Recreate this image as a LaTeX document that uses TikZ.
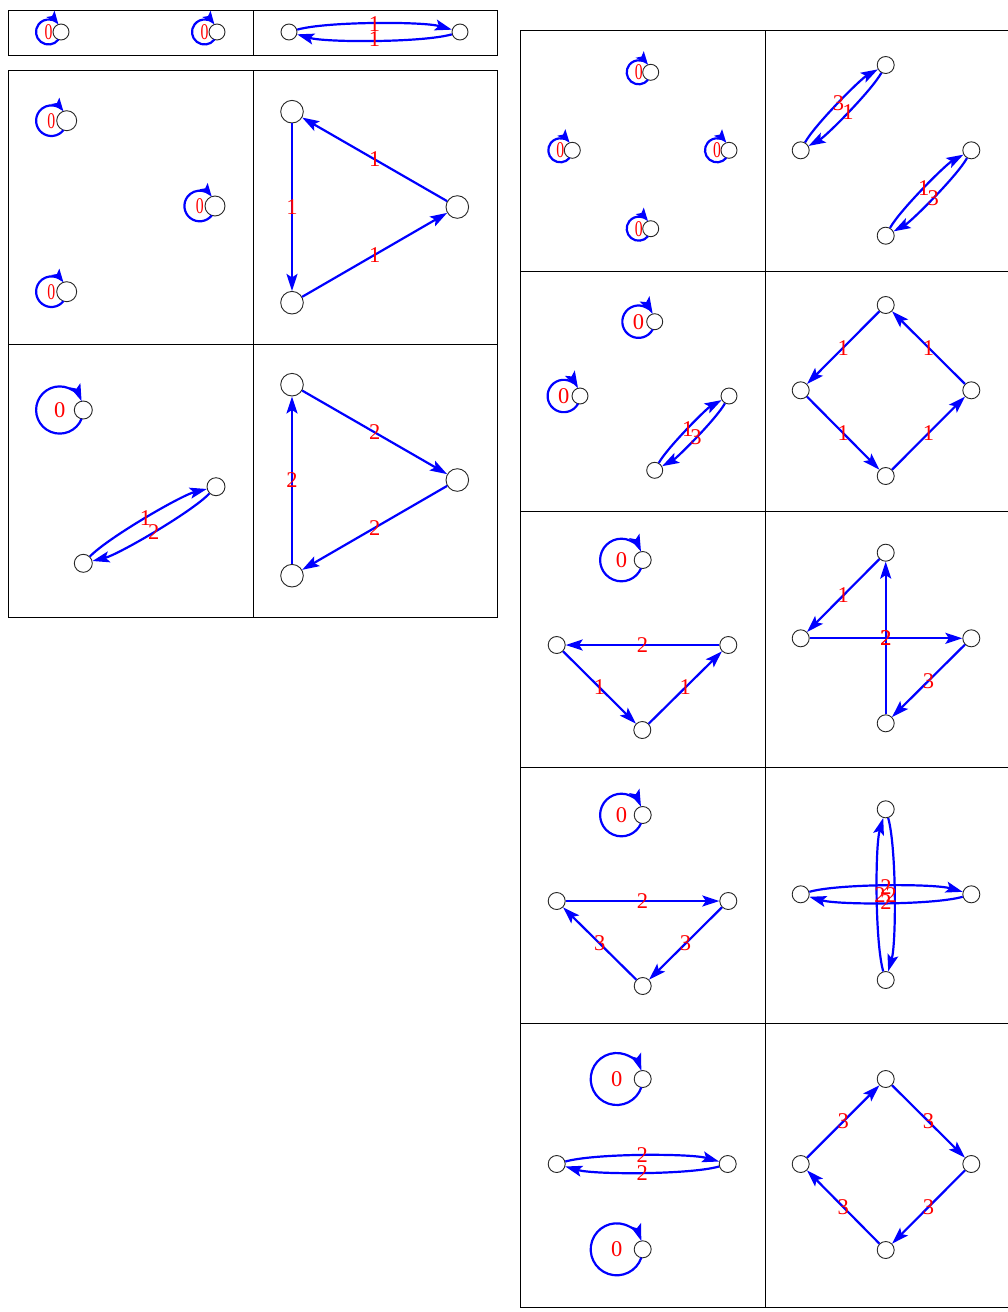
\documentclass[tikz,border=0pt]{standalone}
\usepackage{fontspec}
\setmainfont{Liberation Serif}
\usetikzlibrary{arrows.meta,calc}
\newcommand\sqz[1]{\scalebox{0.7}[1]{#1}}
\newcommand\selfloop[5][]{%
  \pgfmathsetmacro\loopth{acos(1-(#4*#4)/(2*#3*#3))}%
  \draw[gedge,#1] ($(#2.center)+({-#3+#3*cos(\loopth)},{-#3*sin(\loopth)})$)
     arc[start angle={-\loopth}, end angle={-360+\loopth}, radius=#3];
  \node[lab] at ($(#2.center)+(-#3,0)$) {#5};
}
\tikzset{
  vtx/.style={circle, draw=black!85, fill=white, line width=0.9pt, inner sep=0pt, minimum size=#1},
  vtx/.default=17pt,
  gedge/.style={draw=blue, line width=2.2pt, -{Stealth[length=17pt,width=11pt,inset=3.5pt]}},
  smalltip/.style={-{Stealth[length=13pt,width=10pt,inset=2.5pt]}},
  lab/.style={text=red, font=\fontsize{22.5pt}{22.5pt}\selectfont, inner sep=0pt},
  grid/.style={draw=black, line width=1pt},
  bnd/.style={bend left=16, looseness=0.5}
}
\begin{document}
\begin{tikzpicture}[x=1pt,y=1pt]
\useasboundingbox (0,0) rectangle (1008,-1312);
\fill[white] (0,0) rectangle (1008,-1312);
% ---------- tables ----------
\draw[grid] (8,-10) rectangle (497,-55);
\draw[grid] (253,-10) -- (253,-55);
\draw[grid] (8,-70) rectangle (497,-617);
\draw[grid] (253,-70) -- (253,-617);
\draw[grid] (8,-344) -- (497,-344);
\draw[grid] (1009,-30) -- (520,-30) -- (520,-1307) -- (1009,-1307);
\draw[grid] (765,-30) -- (765,-1307);
\foreach \yy in {271,511,767,1023} \draw[grid] (520,-\yy) -- (1009,-\yy);
% ---------- top table ----------
\node[vtx=16pt] (a1) at (61,-32) {};
\node[vtx=16pt] (a2) at (217,-32) {};
\node[vtx=16pt] (a3) at (289,-32) {};
\node[vtx=16pt] (a4) at (460,-32) {};
\selfloop[smalltip]{a1}{12.5}{8}{\sqz{0}}
\selfloop[smalltip]{a2}{12.5}{8}{\sqz{0}}
\draw[gedge] (a3) to[bnd] node[lab,yshift=-1pt]{1} (a4);
\draw[gedge] (a4) to[bnd] node[lab,yshift=1pt]{1} (a3);
% ---------- second table ----------
\node[vtx=20pt] (b1) at (66.7,-120.7) {};
\node[vtx=20pt] (b2) at (215,-206) {};
\node[vtx=20pt] (b3) at (66.7,-291.7) {};
\selfloop[smalltip]{b1}{15.3}{10}{\sqz{0}}
\selfloop[smalltip]{b2}{15.3}{10}{\sqz{0}}
\selfloop[smalltip]{b3}{15.3}{10}{\sqz{0}}
\node[vtx=22.6pt] (c1) at (292,-111.7) {};
\node[vtx=22.6pt] (c2) at (457.3,-207) {};
\node[vtx=22.6pt] (c3) at (292,-302.7) {};
\draw[gedge] (c2) -- node[lab]{1} (c1);
\draw[gedge] (c1) -- node[lab]{1} (c3);
\draw[gedge] (c3) -- node[lab]{1} (c2);
\node[vtx=18pt] (d1) at (83.3,-410) {};
\node[vtx=18pt] (d2) at (83.3,-563.3) {};
\node[vtx=18pt] (d3) at (216,-486.7) {};
\selfloop{d1}{23.6}{9}{0}
\draw[gedge] (d2) to[bnd] node[lab]{1} (d3);
\draw[gedge] (d3) to[bnd] node[lab]{2} (d2);
\node[vtx=22.6pt] (e1) at (292,-384.7) {};
\node[vtx=22.6pt] (e2) at (457.3,-480) {};
\node[vtx=22.6pt] (e3) at (292,-575.7) {};
\draw[gedge] (e1) -- node[lab]{2} (e2);
\draw[gedge] (e2) -- node[lab]{2} (e3);
\draw[gedge] (e3) -- node[lab]{2} (e1);
% ---------- right table, row 1 ----------
\node[vtx=16pt] (f1) at (650.7,-72.3) {};
\node[vtx=16pt] (f2) at (572.3,-150.3) {};
\node[vtx=16pt] (f3) at (729,-150.3) {};
\node[vtx=16pt] (f4) at (650.7,-228.7) {};
\selfloop[smalltip]{f1}{12}{8}{\sqz{0}}
\selfloop[smalltip]{f2}{12}{8}{\sqz{0}}
\selfloop[smalltip]{f3}{12}{8}{\sqz{0}}
\selfloop[smalltip]{f4}{12}{8}{\sqz{0}}
\node[vtx] (g1) at (885.7,-65) {};
\node[vtx] (g2) at (800.7,-150.3) {};
\node[vtx] (g3) at (971.3,-150.3) {};
\node[vtx] (g4) at (885.7,-235.7) {};
\draw[gedge] (g2) to[bnd] node[lab]{3} (g1);
\draw[gedge] (g1) to[bnd] node[lab]{1} (g2);
\draw[gedge] (g4) to[bnd] node[lab]{1} (g3);
\draw[gedge] (g3) to[bnd] node[lab]{3} (g4);
% ---------- row 2 ----------
\node[vtx=16pt] (h1) at (654.7,-321.7) {};
\node[vtx=16pt] (h2) at (580,-396) {};
\node[vtx=16pt] (h3) at (729,-396) {};
\node[vtx=16pt] (h4) at (654.7,-470.3) {};
\selfloop{h1}{16.2}{8}{0}
\selfloop{h2}{16.2}{8}{0}
\draw[gedge] (h4) to[bnd] node[lab]{1} (h3);
\draw[gedge] (h3) to[bnd] node[lab]{3} (h4);
\node[vtx] (i1) at (885.7,-305) {};
\node[vtx] (i2) at (800.7,-390.3) {};
\node[vtx] (i3) at (971.3,-390.3) {};
\node[vtx] (i4) at (885.7,-476) {};
\draw[gedge] (i1) -- node[lab]{1} (i2);
\draw[gedge] (i3) -- node[lab]{1} (i1);
\draw[gedge] (i2) -- node[lab]{1} (i4);
\draw[gedge] (i4) -- node[lab]{1} (i3);
% ---------- row 3 ----------
\node[vtx] (j1) at (642.7,-560) {};
\node[vtx] (j2) at (556.7,-645) {};
\node[vtx] (j3) at (728.3,-645) {};
\node[vtx] (j4) at (642.3,-730) {};
\selfloop{j1}{21.3}{8.5}{0}
\draw[gedge] (j3) -- node[lab]{2} (j2);
\draw[gedge] (j2) -- node[lab]{1} (j4);
\draw[gedge] (j4) -- node[lab]{1} (j3);
\node[vtx] (k1) at (885.7,-552.7) {};
\node[vtx] (k2) at (800.7,-638.3) {};
\node[vtx] (k3) at (971.3,-638.3) {};
\node[vtx] (k4) at (885.7,-723.3) {};
\draw[gedge] (k1) -- node[lab]{1} (k2);
\draw[gedge] (k4) -- node[lab]{2} (k1);
\draw[gedge] (k2) -- node[lab]{2} (k3);
\draw[gedge] (k3) -- node[lab]{3} (k4);
% ---------- row 4 ----------
\node[vtx] (l1) at (642.7,-815) {};
\node[vtx] (l2) at (556.7,-901) {};
\node[vtx] (l3) at (728.3,-901) {};
\node[vtx] (l4) at (642.7,-986) {};
\selfloop{l1}{21.3}{8.5}{0}
\draw[gedge] (l2) -- node[lab]{2} (l3);
\draw[gedge] (l3) -- node[lab]{3} (l4);
\draw[gedge] (l4) -- node[lab]{3} (l2);
\node[vtx] (m1) at (885.7,-809.3) {};
\node[vtx] (m2) at (800.7,-894.3) {};
\node[vtx] (m3) at (971.3,-894.3) {};
\node[vtx] (m4) at (885.7,-980) {};
\draw[gedge] (m4) to[bnd] node[lab,xshift=3pt]{2} (m1);
\draw[gedge] (m1) to[bnd] node[lab,xshift=-3pt]{2} (m4);
\draw[gedge] (m2) to[bnd] node[lab,yshift=-1pt]{2} (m3);
\draw[gedge] (m3) to[bnd] node[lab,yshift=1pt]{2} (m2);
% ---------- row 5 ----------
\node[vtx] (n1) at (642.7,-1079) {};
\node[vtx] (n2) at (556.7,-1164) {};
\node[vtx] (n3) at (727.7,-1164) {};
\node[vtx] (n4) at (642.7,-1249.3) {};
\selfloop{n1}{26}{8.5}{0}
\selfloop{n4}{26}{8.5}{0}
\draw[gedge] (n2) to[bnd] node[lab]{2} (n3);
\draw[gedge] (n3) to[bnd] node[lab]{2} (n2);
\node[vtx] (o1) at (885.7,-1079) {};
\node[vtx] (o2) at (800.7,-1164) {};
\node[vtx] (o3) at (971.3,-1164) {};
\node[vtx] (o4) at (885.7,-1250) {};
\draw[gedge] (o2) -- node[lab]{3} (o1);
\draw[gedge] (o1) -- node[lab]{3} (o3);
\draw[gedge] (o3) -- node[lab]{3} (o4);
\draw[gedge] (o4) -- node[lab]{3} (o2);
\end{tikzpicture}
\end{document}
